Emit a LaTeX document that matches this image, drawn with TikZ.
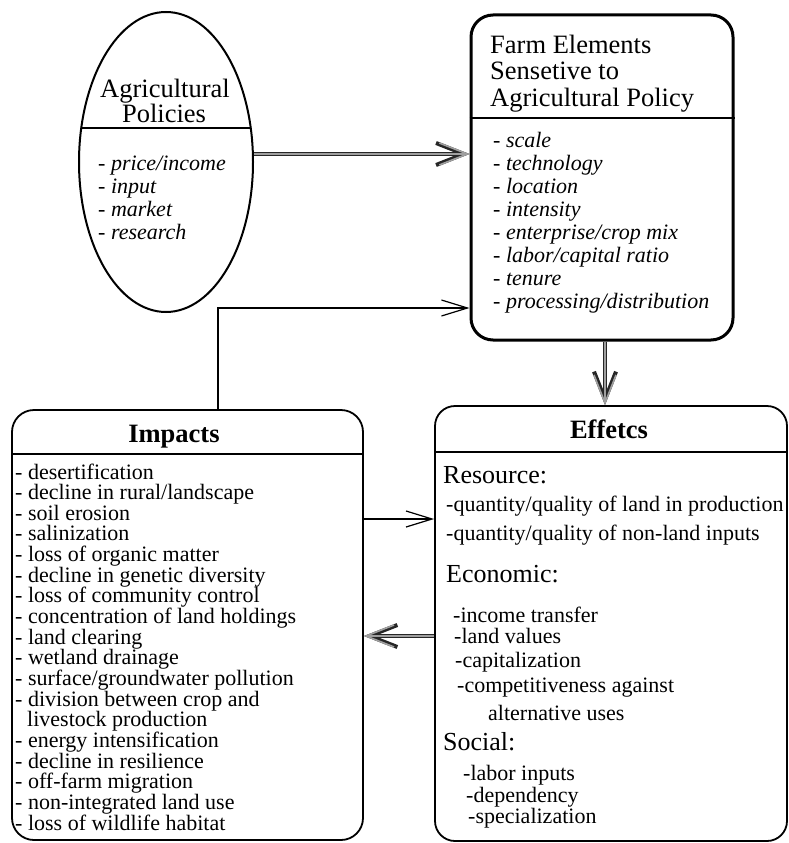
\documentclass[tikz,border=0pt]{standalone}
\usepackage{fontspec}
\setmainfont{Liberation Serif}
\usetikzlibrary{arrows.meta,shapes.geometric}
\begin{document}
\begin{tikzpicture}[x=1pt,y=-1pt,
  lbl/.style={anchor=base west, inner sep=0pt},
  ctr/.style={anchor=base, inner sep=0pt},
  thinarr/.style={line width=1.2pt, -{Straight Barb[length=26pt,width=16pt]}},
  thickarr/.style={line width=4pt, draw=black!85, -{Straight Barb[length=28pt,width=22pt]},
    postaction={draw=gray!75, line width=1.6pt, -{Straight Barb[length=28pt,width=22pt]}}},
  titlef/.style={font=\fontsize{26.5}{30}\selectfont},
  boldf/.style={font=\fontsize{26.5}{30}\bfseries\selectfont},
  itemf/.style={font=\fontsize{22}{24}\selectfont},
  italf/.style={font=\fontsize{22}{24}\itshape\selectfont},
  headf/.style={font=\fontsize{26}{30}\selectfont},
  efff/.style={font=\fontsize{22}{24}\selectfont}]
\useasboundingbox (0,0) rectangle (789,843);
\fill[white] (0,0) rectangle (789,843);

% shapes
\node[draw, ellipse, line width=2pt, minimum width=174pt, minimum height=300pt, inner sep=0pt] (pol) at (166,162) {};
\draw[line width=1.2pt] (81.3,128) -- (250.7,128);
\node[draw, rounded corners=22pt, line width=3pt, minimum width=262pt, minimum height=325pt] (farm) at (602,177.5) {};
\draw[line width=1.5pt] (farm.west |- 0,118) -- (farm.east |- 0,118);
\node[draw, rounded corners=22pt, line width=1.8pt, minimum width=351pt, minimum height=430pt] (imp) at (187.5,625) {};
\draw[line width=1.5pt] (imp.west |- 0,454) -- (imp.east |- 0,454);
\node[draw, rounded corners=20pt, line width=1.8pt, minimum width=352pt, minimum height=435pt] (eff) at (611,623.5) {};
\draw[line width=1.5pt] (eff.west |- 0,452) -- (eff.east |- 0,452);

% ellipse text
\node[ctr, titlef] (polt1) at (165,97) {Agricultural};
\node[ctr, titlef] (polt2) at (164,122) {Policies};
\foreach \t [count=\i] in {price/income, input, market, research}
  \node[lbl, italf] (poli\i) at (98,170+23.3*\i-23.3) {- \t};

% farm text
\foreach \t [count=\i] in {Farm Elements, Sensetive to, Agricultural Policy}
  \node[lbl, titlef] (farmt\i) at (490,53+26.5*\i-26.5) {\t};
\foreach \t [count=\i] in {scale, technology, location, intensity, enterprise/crop mix, labor/capital ratio, tenure, processing/distribution}
  \node[lbl, italf] (farmi\i) at (493,147+23*\i-23) {- \t};

% impacts text
\node[ctr, boldf] (impt) at (174,442) {Impacts};
\foreach \t [count=\i] in {- desertification, - decline in rural/landscape, - soil erosion, - salinization, - loss of organic matter, - decline in genetic diversity, - loss of community control, - concentration of land holdings, - land clearing, - wetland drainage, - surface/groundwater pollution, - division between crop and, \hspace*{12pt}livestock production, - energy intensification, - decline in resilience, - off-farm migration, - non-integrated land use, - loss of wildlife habitat}
  \node[lbl, itemf] (impi\i) at (15,479+20.65*\i-20.65) {\t};

% effects text
\node[ctr, boldf] (efft) at (609,438) {Effetcs};
\node[lbl, headf] (effh1) at (443,483) {Resource:};
\node[lbl, efff] (effr1) at (446,511) {-quantity/quality of land in production};
\node[lbl, efff] (effr2) at (446,540) {-quantity/quality of non-land inputs};
\node[lbl, headf] (effh2) at (446,582) {Economic:};
\node[lbl, efff] (effe1) at (453,622) {-income transfer};
\node[lbl, efff] (effe2) at (454,643) {-land values};
\node[lbl, efff] (effe3) at (455,667) {-capitalization};
\node[lbl, efff] (effe4) at (457,692) {-competitiveness against};
\node[lbl, efff] (effe5) at (488,720) {alternative uses};
\node[lbl, headf] (effh3) at (443,750) {Social:};
\node[lbl, efff] (effs1) at (463,780) {-labor inputs};
\node[lbl, efff] (effs2) at (466,802) {-dependency};
\node[lbl, efff] (effs3) at (468,823) {-specialization};

% connectors
\draw[thickarr] (pol.east |- 0,154) -- (farm.west |- 0,154);
\draw[thinarr] (imp.north -| 218,0) |- (farm.west |- 0,308);
\draw[thickarr] (farm.south -| 605,0) -- (eff.north -| 605,0);
\draw[thinarr] (imp.east |- 0,519) -- (eff.west |- 0,519);
\draw[thickarr] (eff.west |- 0,636) -- (imp.east |- 0,636);
\end{tikzpicture}
\end{document}
